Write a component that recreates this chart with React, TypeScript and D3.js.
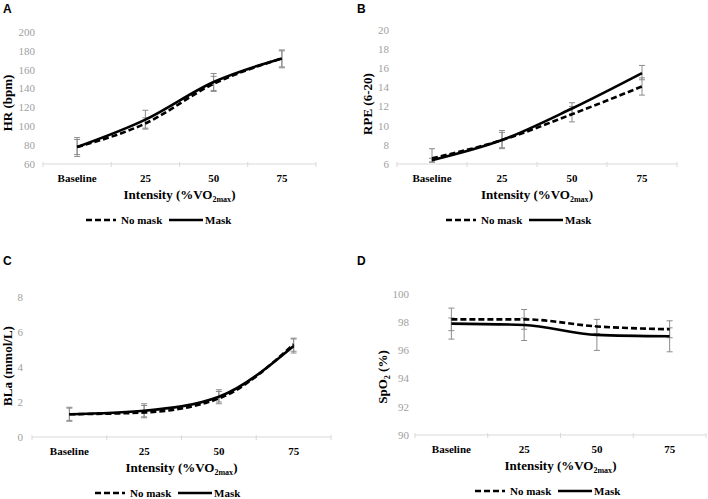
import React from "react";
import * as d3 from "d3";

// ---------- data ----------
const categories = ["Baseline", "25", "50", "75"];

// Panel A: HR (bpm)
const hrTicks = [60, 80, 100, 120, 140, 160, 180, 200];
const hrNoMask = [78, 103, 145, 172];
const hrMask = [78, 107, 147, 172];
const hrNoMaskLo = [70, 98, 137, 163];
const hrNoMaskHi = [86, 109, 153, 180];
const hrMaskLo = [68, 97, 138, 162];
const hrMaskHi = [88, 117, 156, 181];

// Panel B: RPE (6-20)
const rpeTicks = [6, 8, 10, 12, 14, 16, 18, 20];
const rpeNoMask = [6.6, 8.5, 11.2, 14.1];
const rpeMask = [6.4, 8.5, 11.8, 15.5];
const rpeNoMaskLo = [6.2, 7.6, 10.4, 13.2];
const rpeNoMaskHi = [7.6, 9.5, 12.0, 15.0];
const rpeMaskLo = [6.2, 7.7, 11.2, 14.8];
const rpeMaskHi = [6.6, 9.3, 12.4, 16.3];

// Panel C: BLa (mmol/L)
const blaTicks = [0, 2, 4, 6, 8];
const blaNoMask = [1.3, 1.4, 2.2, 5.3];
const blaMask = [1.3, 1.5, 2.3, 5.2];
const blaNoMaskLo = [0.9, 1.1, 1.9, 4.9];
const blaNoMaskHi = [1.7, 1.8, 2.6, 5.65];
const blaMaskLo = [0.95, 1.15, 2.0, 4.8];
const blaMaskHi = [1.65, 1.9, 2.7, 5.6];

// Panel D: SpO2 (%)
const spoTicks = [90, 92, 94, 96, 98, 100];
const spoNoMask = [98.2, 98.2, 97.7, 97.5];
const spoMask = [97.9, 97.8, 97.1, 97.0];
const spoNoMaskLo = [97.4, 97.5, 97.2, 96.9];
const spoNoMaskHi = [99.0, 98.9, 98.2, 98.1];
const spoMaskLo = [96.8, 96.7, 96.0, 95.9];
const spoMaskHi = [98.3, 98.3, 97.7, 97.6];

const SERIF = "'Liberation Serif', 'Times New Roman', serif";
const SANS = "'Liberation Sans', Arial, sans-serif";

type PanelProps = {
  letter: string;
  lx: number;
  ly: number;
  x0: number;
  x1: number;
  yTop: number;
  yBot: number;
  ticks: number[];
  tickRight: number;
  title: React.ReactNode;
  tcx: number;
  tcy: number;
  noMask: number[];
  mask: number[];
  noMaskLo: number[];
  noMaskHi: number[];
  maskLo: number[];
  maskHi: number[];
  legendX: number;
};

function Panel(p: PanelProps) {
  const x = d3.scaleBand<string>().domain(categories).range([p.x0, p.x1]).padding(0);
  const bw = x.bandwidth();
  const cx = (c: string) => (x(c) as number) + bw / 2;
  const y = d3
    .scaleLinear()
    .domain([p.ticks[0], p.ticks[p.ticks.length - 1]])
    .range([p.yBot, p.yTop]);
  const line = d3
    .line<number>()
    .x((_, i) => cx(categories[i]))
    .y((v) => y(v))
    .curve(d3.curveMonotoneX);

  const bounds = [p.x0, ...categories.map((c) => (x(c) as number) + bw)];
  const errColor = "#8c8c8c";
  const errs = (lo: number[], hi: number[], key: string) =>
    categories.map((c, i) => {
      const xc = cx(c);
      return (
        <g key={key + i} stroke={errColor} strokeWidth={1}>
          <line x1={xc} x2={xc} y1={y(lo[i])} y2={y(hi[i])} />
          <line x1={xc - 3} x2={xc + 3} y1={y(lo[i])} y2={y(lo[i])} />
          <line x1={xc - 3} x2={xc + 3} y1={y(hi[i])} y2={y(hi[i])} />
        </g>
      );
    });

  const axisY = p.yBot;
  const legY = axisY + 56;
  const lx = p.legendX;
  const plotCx = (p.x0 + p.x1) / 2;

  return (
    <g>
      <text x={p.lx} y={p.ly} fontFamily={SANS} fontWeight="bold" fontSize={12} fill="#000">
        {p.letter}
      </text>
      {/* y tick labels */}
      {p.ticks.map((t) => (
        <text
          key={t}
          x={p.tickRight}
          y={y(t)}
          dy="0.35em"
          textAnchor="end"
          fontFamily={SERIF}
          fontSize={11}
          fill="#a0a0a0"
        >
          {t}
        </text>
      ))}
      {/* y title */}
      <text
        transform={`translate(${p.tcx},${p.tcy}) rotate(-90)`}
        textAnchor="middle"
        dy="0.35em"
        fontFamily={SERIF}
        fontWeight="bold"
        fontSize={13}
        fill="#000"
      >
        {p.title}
      </text>
      {/* x axis */}
      <line x1={p.x0} x2={p.x1} y1={axisY} y2={axisY} stroke="#d9d9d9" strokeWidth={1} />
      {bounds.map((b, i) => (
        <line key={i} x1={b} x2={b} y1={axisY - 2} y2={axisY + 3} stroke="#d9d9d9" strokeWidth={1} />
      ))}
      {categories.map((c) => (
        <text
          key={c}
          x={cx(c)}
          y={axisY + 18}
          textAnchor="middle"
          fontFamily={SERIF}
          fontWeight="bold"
          fontSize={11}
          fill="#000"
        >
          {c}
        </text>
      ))}
      <text
        x={plotCx}
        y={axisY + 35}
        textAnchor="middle"
        fontFamily={SERIF}
        fontWeight="bold"
        fontSize={13}
        fill="#000"
      >
        Intensity (%VO
        <tspan fontSize={8} dy={3}>
          2max
        </tspan>
        <tspan dy={-3}>)</tspan>
      </text>
      {/* error bars */}
      {errs(p.noMaskLo, p.noMaskHi, "n")}
      {errs(p.maskLo, p.maskHi, "m")}
      {/* lines */}
      <path d={line(p.noMask) || ""} fill="none" stroke="#000" strokeWidth={2.6} strokeDasharray="6,3" />
      <path d={line(p.mask) || ""} fill="none" stroke="#000" strokeWidth={2.6} />
      {/* legend */}
      <line x1={lx} x2={lx + 30} y1={legY} y2={legY} stroke="#000" strokeWidth={2.6} strokeDasharray="6,3" />
      <text x={lx + 35} y={legY + 4} fontFamily={SERIF} fontWeight="bold" fontSize={11} fill="#000">
        No mask
      </text>
      <line x1={lx + 83} x2={lx + 117} y1={legY} y2={legY} stroke="#000" strokeWidth={2.6} />
      <text x={lx + 119} y={legY + 4} fontFamily={SERIF} fontWeight="bold" fontSize={11} fill="#000">
        Mask
      </text>
    </g>
  );
}

export default function App() {
  return (
    <svg
      width={708}
      height={499}
      style={{ position: "absolute", left: 0, top: 0, background: "#fff" }}
    >
      <rect x={0} y={0} width={708} height={499} fill="#fff" />
      <Panel
        letter="A"
        lx={3}
        ly={13}
        x0={43}
        x1={316}
        yTop={32}
        yBot={164}
        ticks={hrTicks}
        tickRight={35}
        title="HR (bpm)"
        tcx={7}
        tcy={103}
        noMask={hrNoMask}
        mask={hrMask}
        noMaskLo={hrNoMaskLo}
        noMaskHi={hrNoMaskHi}
        maskLo={hrMaskLo}
        maskHi={hrMaskHi}
        legendX={86}
      />
      <Panel
        letter="B"
        lx={357}
        ly={13}
        x0={397}
        x1={677}
        yTop={30}
        yBot={164}
        ticks={rpeTicks}
        tickRight={389}
        title="RPE (6-20)"
        tcx={367}
        tcy={104}
        noMask={rpeNoMask}
        mask={rpeMask}
        noMaskLo={rpeNoMaskLo}
        noMaskHi={rpeNoMaskHi}
        maskLo={rpeMaskLo}
        maskHi={rpeMaskHi}
        legendX={446}
      />
      <Panel
        letter="C"
        lx={3}
        ly={265}
        x0={32}
        x1={331}
        yTop={297}
        yBot={437}
        ticks={blaTicks}
        tickRight={23}
        title="BLa (mmol/L)"
        tcx={7}
        tcy={366}
        noMask={blaNoMask}
        mask={blaMask}
        noMaskLo={blaNoMaskLo}
        noMaskHi={blaNoMaskHi}
        maskLo={blaMaskLo}
        maskHi={blaMaskHi}
        legendX={95}
      />
      <Panel
        letter="D"
        lx={357}
        ly={265}
        x0={415}
        x1={706}
        yTop={294}
        yBot={435}
        ticks={spoTicks}
        tickRight={409}
        title={
          <>
            SpO
            <tspan fontSize={8} dy={3}>
              2
            </tspan>
            <tspan dy={-3}> (%)</tspan>
          </>
        }
        tcx={382}
        tcy={377}
        noMask={spoNoMask}
        mask={spoMask}
        noMaskLo={spoNoMaskLo}
        noMaskHi={spoNoMaskHi}
        maskLo={spoMaskLo}
        maskHi={spoMaskHi}
        legendX={475}
      />
    </svg>
  );
}
